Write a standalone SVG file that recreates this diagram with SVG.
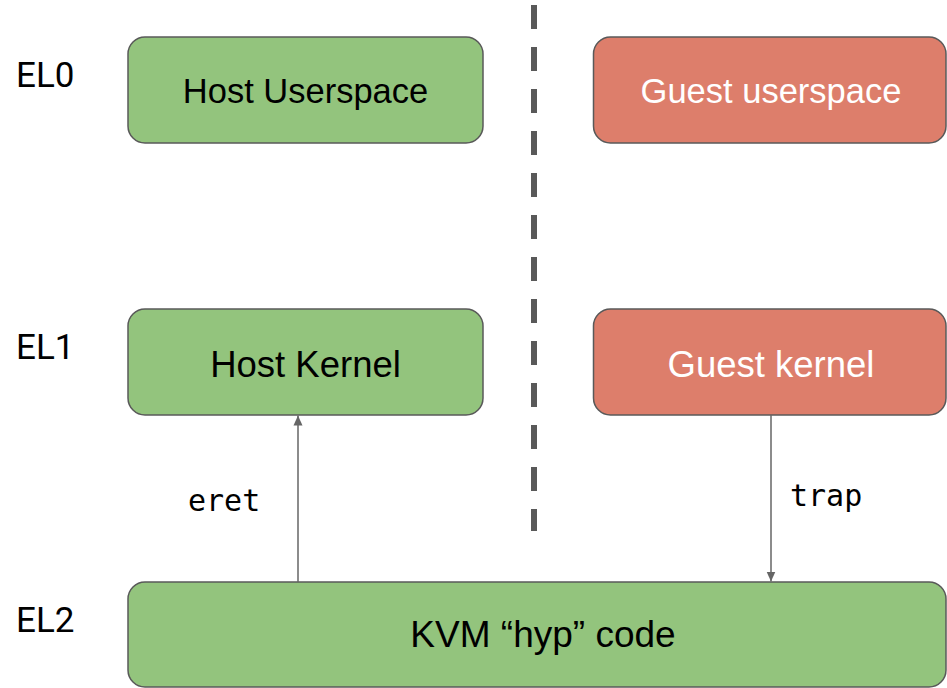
<svg xmlns="http://www.w3.org/2000/svg" width="947" height="688" viewBox="0 0 947 688">
<style>
.box{stroke:#595959;stroke-width:1.5}
.green{fill:#93c47d}
.red{fill:#dd7e6b}
.t{font-family:"Liberation Sans",Arial,sans-serif;text-anchor:middle}
.el{font-family:Roboto,"Noto Sans",sans-serif;font-size:35px;fill:#000}
.mono{font-family:"DejaVu Sans Mono","Liberation Mono",monospace;font-size:30px;fill:#000}
.conn{stroke:#666;stroke-width:1.5;fill:none}
</style>
<defs>
<marker id="ah" viewBox="0 0 10 10" refX="10" refY="5" markerWidth="10" markerHeight="10" markerUnits="userSpaceOnUse" orient="auto">
<path d="M0,0.5 L10,5 L0,9.5 Z" fill="#666"/>
</marker>
</defs>
<rect width="947" height="688" fill="#fff"/>
<g id="divider">
<line x1="534" y1="5" x2="534" y2="531" stroke="#595959" stroke-width="6" stroke-dasharray="24 18"/>
</g>
<g id="labels">
<text class="el" x="16" y="87">EL0</text>
<text class="el" x="16" y="359">EL1</text>
<text class="el" x="16" y="632">EL2</text>
</g>
<g id="host-userspace">
<rect class="box green" x="128" y="37" width="355" height="106" rx="17"/>
<text class="t" x="305.5" y="103" font-size="34.5" fill="#000">Host Userspace</text>
</g>
<g id="guest-userspace">
<rect class="box red" x="593.5" y="37" width="352.5" height="106" rx="17"/>
<text class="t" x="771" y="103" font-size="34.5" fill="#fff">Guest userspace</text>
</g>
<g id="host-kernel">
<rect class="box green" x="128" y="309" width="355" height="106" rx="17"/>
<text class="t" x="305.5" y="377" font-size="36.5" fill="#000">Host Kernel</text>
</g>
<g id="guest-kernel">
<rect class="box red" x="593.5" y="309" width="352.5" height="106" rx="17"/>
<text class="t" x="771" y="377" font-size="36.5" fill="#fff">Guest kernel</text>
</g>
<g id="kvm-hyp">
<rect class="box green" x="128" y="582" width="818" height="105" rx="17"/>
<text class="t" x="543" y="647" font-size="37" fill="#000">KVM “hyp” code</text>
</g>
<g id="connectors">
<line class="conn" x1="298" y1="582" x2="298" y2="415.5" marker-end="url(#ah)"/>
<line class="conn" x1="771" y1="415" x2="771" y2="581.5" marker-end="url(#ah)"/>
<text class="mono" x="188" y="511">eret</text>
<text class="mono" x="790" y="506">trap</text>
</g>
</svg>
